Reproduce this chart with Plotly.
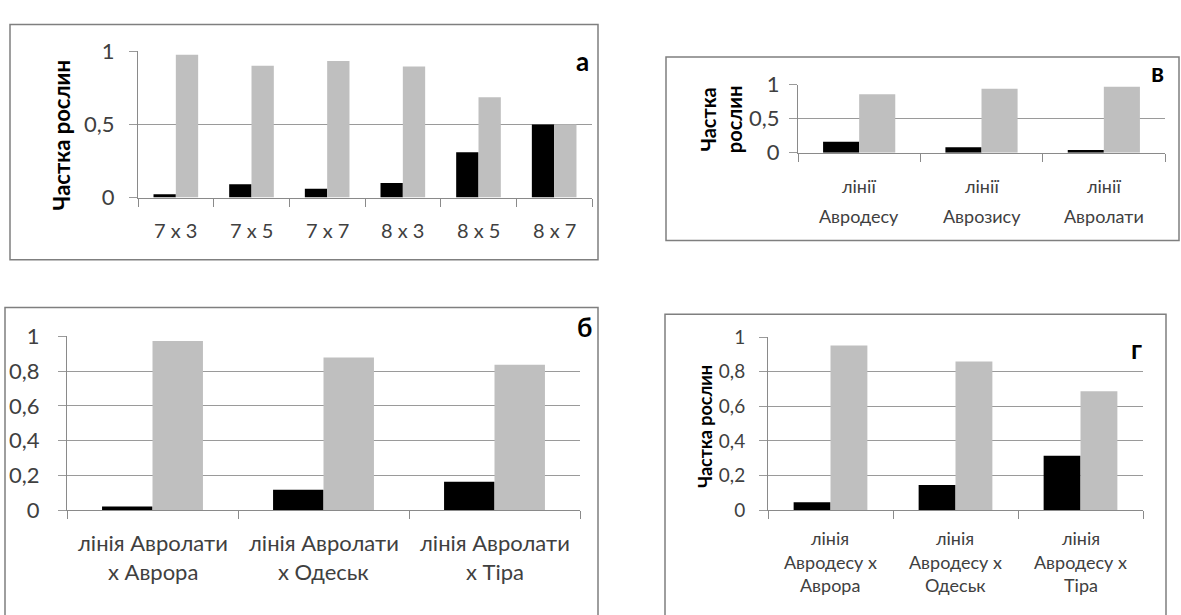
import plotly.graph_objects as go

W, H = 1181, 615

# ---------------- data ----------------
cats_a = ["7 x 3", "7 x 5", "7 x 7", "8 x 3", "8 x 5", "8 x 7"]
black_a = [0.022, 0.091, 0.061, 0.10, 0.309, 0.50]
gray_a = [0.976, 0.902, 0.933, 0.896, 0.685, 0.50]
ticks_a = [0, 0.5, 1]
ticklabels_a = ["0", "0,5", "1"]

cats_v = ["лінії<br>Авродесу", "лінії<br>Аврозису", "лінії<br>Авролати"]
black_v = [0.16, 0.08, 0.04]
gray_v = [0.86, 0.94, 0.97]
ticks_v = [0, 0.5, 1]
ticklabels_v = ["0", "0,5", "1"]

cats_b = ["лінія Авролати<br>х Аврора", "лінія Авролати<br>х Одеськ", "лінія Авролати<br>х Тіра"]
black_b = [0.022, 0.117, 0.164]
gray_b = [0.973, 0.878, 0.836]
ticks_b = [0, 0.2, 0.4, 0.6, 0.8, 1]
ticklabels_b = ["0", "0,2", "0,4", "0,6", "0,8", "1"]

cats_g = ["лінія<br>Авродесу х<br>Аврора", "лінія<br>Авродесу х<br>Одеськ", "лінія<br>Авродесу х<br>Тіра"]
black_g = [0.046, 0.145, 0.314]
gray_g = [0.952, 0.859, 0.688]
ticks_g = [0, 0.2, 0.4, 0.6, 0.8, 1]
ticklabels_g = ["0", "0,2", "0,4", "0,6", "0,8", "1"]

BLACK = "#000000"
GRAY = "#bfbfbf"
GRID = "#9a9a9a"
AXIS = "#8a8a8a"
TXT = "#404040"
FONT = "Lato, Carlito, Calibri, sans-serif"

# panel layout (pixels)
panels = [
    dict(cats=cats_a, black=black_a, gray=gray_a, tv=ticks_a, tt=ticklabels_a,
         plot=(138, 39, 592, 192), border=(10, 11, 598, 257), tf=22, stand=10, cf=20,
         lines_y=[226], letter="а", lpos=(582, 49),
         ytitle="<b>Частка рослин</b>", ypos=(61, 127), yf=22),
    dict(cats=cats_v, black=black_v, gray=gray_v, tv=ticks_v, tt=ticklabels_v,
         plot=(798, 74, 1165, 145), border=(666, 45, 1179, 237), tf=22, stand=5, cf=18,
         lines_y=[180, 211], letter="в", lpos=(1157, 61),
         ytitle="<b>Частка<br>рослин</b>", ypos=(721, 110), yf=20),
    dict(cats=cats_b, black=black_b, gray=gray_b, tv=ticks_b, tt=ticklabels_b,
         plot=(67, 337, 580, 519), border=(5, 307, 598, 640), tf=22, stand=14, cf=22,
         lines_y=[553, 583], letter="б", lpos=(584, 327),
         ytitle=None, ypos=None, yf=None),
    dict(cats=cats_g, black=black_g, gray=gray_g, tv=ticks_g, tt=ticklabels_g,
         plot=(768, 338, 1143, 519), border=(665, 314, 1166, 640), tf=19, stand=10, cf=18,
         lines_y=[548, 573, 597], letter="г", lpos=(1136, 350),
         ytitle="<b>Частка рослин</b>", ypos=(705, 432), yf=18),
]

fig = go.Figure()
shapes = []
annotations = []

for i, p in enumerate(panels):
    n = i + 1
    xa = "x" if n == 1 else f"x{n}"
    ya = "y" if n == 1 else f"y{n}"
    fig.add_trace(go.Bar(x=p["cats"], y=p["black"], marker=dict(color=BLACK, line=dict(width=0)),
                         xaxis=xa, yaxis=ya, showlegend=False, offsetgroup=f"k{n}"))
    fig.add_trace(go.Bar(x=p["cats"], y=p["gray"], marker=dict(color=GRAY, line=dict(width=0)),
                         xaxis=xa, yaxis=ya, showlegend=False, offsetgroup=f"g{n}"))
    x0, y0, x1, y1 = p["plot"]
    dx = [x0 / W, x1 / W]
    dy = [1 - y1 / H, 1 - y0 / H]
    xkey = "xaxis" if n == 1 else f"xaxis{n}"
    ykey = "yaxis" if n == 1 else f"yaxis{n}"
    fig.update_layout(**{
        xkey: dict(domain=dx, anchor=ya, type="category", showline=True, linecolor=AXIS, linewidth=1,
                   ticks="outside", tickson="boundaries", ticklen=8, tickcolor=AXIS,
                   showgrid=False, showticklabels=False, fixedrange=True),
        ykey: dict(domain=dy, anchor=xa, range=[0, 1], tickvals=p["tv"], ticktext=p["tt"],
                   showline=True, linecolor=AXIS, linewidth=1, ticks="outside", ticklen=8,
                   tickcolor=GRID, showgrid=True, gridcolor=GRID, gridwidth=1, zeroline=False,
                   ticklabelstandoff=p["stand"],
                   tickfont=dict(family=FONT, size=p["tf"], color=TXT), fixedrange=True),
    })
    # category labels, one annotation per text line, placed on the category axis
    for c in p["cats"]:
        for k, line in enumerate(c.split("<br>")):
            annotations.append(dict(text=line, xref=xa, yref="paper", x=c,
                                    y=1 - p["lines_y"][k] / H, showarrow=False,
                                    xanchor="center", yanchor="middle",
                                    font=dict(family=FONT, size=p["cf"], color=TXT)))
    bx0, by0, bx1, by1 = p["border"]
    shapes.append(dict(type="rect", xref="paper", yref="paper",
                       x0=bx0 / W, x1=bx1 / W, y0=1 - by1 / H, y1=1 - by0 / H,
                       line=dict(color="#7f7f7f", width=1.5), fillcolor="rgba(0,0,0,0)"))
    lx, ly = p["lpos"]
    annotations.append(dict(text=f"<b>{p['letter']}</b>", xref="paper", yref="paper",
                            x=lx / W, y=1 - ly / H, showarrow=False,
                            xanchor="center", yanchor="middle",
                            font=dict(family=FONT, size=26, color="#000000")))
    if p["ytitle"]:
        tx, ty = p["ypos"]
        annotations.append(dict(text=p["ytitle"], xref="paper", yref="paper",
                                x=tx / W, y=1 - ty / H, showarrow=False, textangle=-90,
                                xanchor="center", yanchor="middle",
                                font=dict(family=FONT, size=p["yf"], color="#000000")))

fig.update_layout(
    width=W, height=H, margin=dict(l=0, r=0, t=0, b=0),
    paper_bgcolor="white", plot_bgcolor="white",
    barmode="group", bargap=0.41, bargroupgap=0,
    shapes=shapes, annotations=annotations,
    font=dict(family=FONT, color=TXT),
)

fig.write_html("out.html", config={"displayModeBar": False},
               post_script="document.body.style.margin='0px';document.body.style.overflow='hidden';")
